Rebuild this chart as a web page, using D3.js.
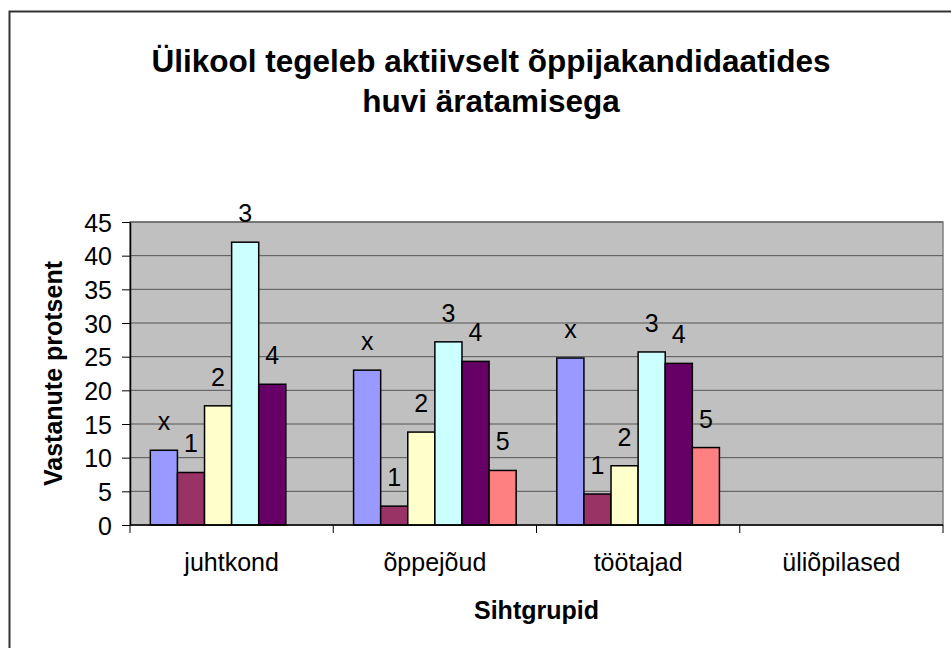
<!DOCTYPE html>
<html>
<head>
  <meta charset="utf-8">
  <title>Ülikool tegeleb aktiivselt õppijakandidaatides huvi äratamisega</title>
  <style>
    body { margin: 0; background: #fff; overflow: hidden; }
    svg { font-family: Arial, "Liberation Sans", sans-serif; }
    .tick text { font-size: 25px; fill: #000; }
    .barlabel { font-size: 25px; fill: #000; text-anchor: middle; }
    .axtitle { font-size: 25px; font-weight: bold; text-anchor: middle; }
    .title { font-size: 31.5px; font-weight: bold; text-anchor: middle; }
  </style>
</head>
<body>
<svg id="chart" width="951" height="648"></svg>
<script src="https://cdn.jsdelivr.net/npm/d3@7"></script>
<script>
// categories (sihtgrupid) and series (answer values x,1..5)
var categories = ["juhtkond", "õppejõud", "töötajad", "üliõpilased"];
var seriesNames = ["x", "1", "2", "3", "4", "5"];
var seriesColors = ["#9999ff", "#993366", "#ffffcc", "#ccffff", "#660066", "#ff8080"];
// percentages per series, one value per category (null = no bar)
var valX = [11.1, 23.0, 24.8, null];
var val1 = [7.8, 2.8, 4.6, null];
var val2 = [17.7, 13.8, 8.8, null];
var val3 = [42.0, 27.2, 25.7, null];
var val4 = [20.9, 24.3, 24.0, null];
var val5 = [null, 8.1, 11.5, null];
var yTicks = [0, 5, 10, 15, 20, 25, 30, 35, 40, 45];

var seriesValues = [valX, val1, val2, val3, val4, val5];

var svg = d3.select("#chart");

// outer chart frame (runs off the right / bottom edge like the original)
svg.append("rect")
    .attr("x", 9.5).attr("y", 11.5)
    .attr("width", 980).attr("height", 680)
    .attr("fill", "#fff")
    .attr("stroke", "#333").attr("stroke-width", 2);

var plot = {left: 130, right: 943, top: 222, bottom: 525};

var x0 = d3.scaleBand().domain(categories).range([plot.left, plot.right]);
var x1 = d3.scaleBand().domain(seriesNames).range([0, x0.bandwidth()])
    .paddingInner(0).paddingOuter(0.75);
var y = d3.scaleLinear().domain([0, 45]).range([plot.bottom, plot.top]);

// plot area background
svg.append("rect")
    .attr("x", plot.left).attr("y", plot.top)
    .attr("width", plot.right - plot.left).attr("height", plot.bottom - plot.top)
    .attr("fill", "#c0c0c0")
    .attr("stroke", "#808080").attr("stroke-width", 1.5);

// gridlines
svg.append("g").selectAll("line")
    .data(yTicks.slice(1))
  .enter().append("line")
    .attr("x1", plot.left).attr("x2", plot.right)
    .attr("y1", function(d) { return y(d); })
    .attr("y2", function(d) { return y(d); })
    .attr("stroke", "#555").attr("stroke-width", 1);

// y axis
var yAxis = svg.append("g")
    .attr("transform", "translate(" + plot.left + ",0)")
    .call(d3.axisLeft(y).tickValues(yTicks).tickSize(8).tickPadding(10).tickSizeOuter(0));
yAxis.select(".domain").attr("stroke", "#000").attr("stroke-width", 1.5);
yAxis.selectAll(".tick line").attr("stroke", "#000");
yAxis.selectAll(".tick text").attr("dy", "0.36em");

// bars, one group per category
var groups = svg.append("g").selectAll("g")
    .data(categories)
  .enter().append("g")
    .attr("transform", function(d) { return "translate(" + x0(d) + ",0)"; });

var barData = function(cat, ci) {
  return seriesNames.map(function(s, si) {
    return {name: s, color: seriesColors[si], value: seriesValues[si][ci]};
  }).filter(function(d) { return d.value != null; });
};

groups.selectAll("rect")
    .data(barData)
  .enter().append("rect")
    .attr("x", function(d) { return x1(d.name); })
    .attr("width", x1.bandwidth())
    .attr("y", function(d) { return y(d.value); })
    .attr("height", function(d) { return y(0) - y(d.value); })
    .attr("fill", function(d) { return d.color; })
    .attr("stroke", "#000").attr("stroke-width", 1.5);

groups.selectAll("text")
    .data(barData)
  .enter().append("text")
    .attr("class", "barlabel")
    .attr("x", function(d) { return x1(d.name) + x1.bandwidth() / 2; })
    .attr("y", function(d) { return y(d.value) - 20; })
    .text(function(d) { return d.name; });

// x axis: ticks at category boundaries, labels in the middle
var xAxis = svg.append("g")
    .attr("transform", "translate(0," + plot.bottom + ")");
xAxis.append("line")
    .attr("x1", plot.left).attr("x2", plot.right)
    .attr("stroke", "#000").attr("stroke-width", 1.5);
var bounds = categories.map(function(c) { return x0(c); }).concat([plot.right]);
xAxis.selectAll(".xt")
    .data(bounds)
  .enter().append("line")
    .attr("class", "xt")
    .attr("x1", function(d) { return d; }).attr("x2", function(d) { return d; })
    .attr("y1", 0).attr("y2", 8)
    .attr("stroke", "#000");
xAxis.selectAll(".xl")
    .data(categories)
  .enter().append("text")
    .attr("class", "barlabel")
    .attr("x", function(d) { return x0(d) + x0.bandwidth() / 2; })
    .attr("y", 46)
    .text(function(d) { return d; });

// titles
svg.append("text").attr("class", "title")
    .attr("x", 491).attr("y", 72)
    .text("Ülikool tegeleb aktiivselt õppijakandidaatides");
svg.append("text").attr("class", "title")
    .attr("x", 491).attr("y", 112)
    .text("huvi äratamisega");

svg.append("text").attr("class", "axtitle")
    .attr("x", (plot.left + plot.right) / 2).attr("y", 619)
    .text("Sihtgrupid");

svg.append("text").attr("class", "axtitle")
    .attr("transform", "translate(62," + (plot.top + plot.bottom) / 2 + ") rotate(-90)")
    .text("Vastanute protsent");
</script>
</body>
</html>
